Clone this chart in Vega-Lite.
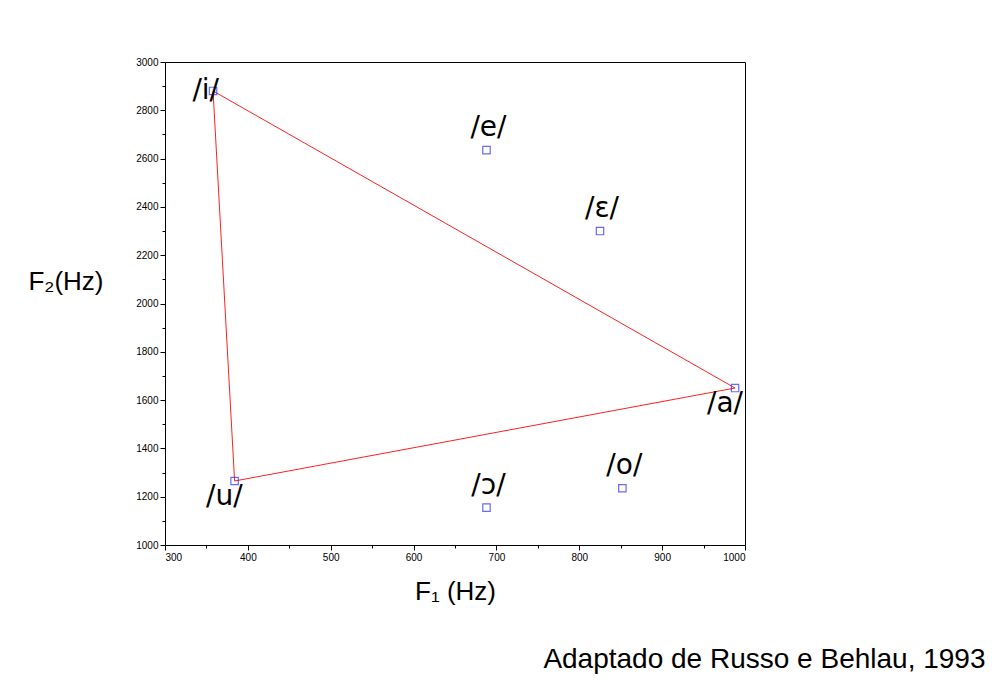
{
  "$schema": "https://vega.github.io/schema/vega-lite/v6.json",
  "width": 580,
  "height": 483,
  "autosize": "none",
  "padding": {"left": 165, "top": 62, "right": 253, "bottom": 151},
  "background": "white",
  "config": {"view": {"stroke": "black", "strokeWidth": 1}, "font": "Liberation Sans"},
  "title": {
    "text": "Adaptado de Russo e Behlau, 1993",
    "orient": "bottom",
    "anchor": "end",
    "dx": 240,
    "offset": 42,
    "fontSize": 28,
    "fontWeight": "normal",
    "color": "black"
  },
  "datasets": {
    "vowels": [
      {"label": "/i/", "f1": 358, "f2": 2880, "pos": "left"},
      {"label": "/e/", "f1": 688, "f2": 2635, "pos": "above"},
      {"label": "/ɛ/", "f1": 825, "f2": 2300, "pos": "above"},
      {"label": "/a/", "f1": 988, "f2": 1650, "pos": "belowleft"},
      {"label": "/ɔ/", "f1": 688, "f2": 1155, "pos": "above"},
      {"label": "/o/", "f1": 852, "f2": 1235, "pos": "above"},
      {"label": "/u/", "f1": 384, "f2": 1265, "pos": "belowleft"}
    ],
    "triangle": [
      {"vowel": "i", "f1": 358, "f2": 2880, "ord": 1},
      {"vowel": "a", "f1": 988, "f2": 1650, "ord": 2},
      {"vowel": "u", "f1": 384, "f2": 1265, "ord": 3},
      {"vowel": "i", "f1": 358, "f2": 2880, "ord": 4}
    ]
  },
  "encoding": {
    "x": {
      "field": "f1", "type": "quantitative",
      "scale": {"domain": [300, 1000], "nice": false, "zero": false},
      "axis": {
        "values": [300, 350, 400, 450, 500, 550, 600, 650, 700, 750, 800, 850, 900, 950, 1000],
        "labelExpr": "datum.value % 100 == 0 ? datum.label : ''",
        "tickSize": {"condition": {"test": "datum.value % 100 == 0", "value": 5}, "value": 3},
        "format": "d",
        "grid": false, "domain": false, "labelFontSize": 10, "labelColor": "black", "tickColor": "black",
        "title": "F₁ (Hz)", "titleFontSize": 26, "titleFontWeight": "normal", "titlePadding": 16, "titleColor": "black"
      }
    },
    "y": {
      "field": "f2", "type": "quantitative",
      "scale": {"domain": [1000, 3000], "nice": false, "zero": false},
      "axis": {
        "values": [1000, 1100, 1200, 1300, 1400, 1500, 1600, 1700, 1800, 1900, 2000, 2100, 2200, 2300, 2400, 2500, 2600, 2700, 2800, 2900, 3000],
        "labelExpr": "datum.value % 200 == 0 ? datum.label : ''",
        "tickSize": {"condition": {"test": "datum.value % 200 == 0", "value": 5}, "value": 3},
        "format": "d",
        "grid": false, "domain": false, "labelFontSize": 10, "labelColor": "black", "tickColor": "black",
        "title": "F₂(Hz)", "titleAngle": 0, "titleFontSize": 26, "titleFontWeight": "normal",
        "titleX": -62, "titleY": 232, "titleAlign": "right", "titleColor": "black"
      }
    }
  },
  "layer": [
    {
      "data": {"name": "triangle"},
      "mark": {"type": "line", "color": "#ff2020", "strokeWidth": 1},
      "encoding": {"order": {"field": "ord", "type": "quantitative"}}
    },
    {
      "data": {"name": "vowels"},
      "mark": {"type": "point", "shape": "square", "filled": false, "size": 55, "stroke": "#2a2aff", "strokeWidth": 1.2}
    },
    {
      "data": {"name": "vowels"},
      "transform": [{"filter": "datum.pos == 'above'"}],
      "mark": {"type": "text", "fontSize": 28, "dy": -8, "dx": 2, "baseline": "bottom", "color": "black", "font": "DejaVu Sans"},
      "encoding": {"text": {"field": "label", "type": "nominal"}}
    },
    {
      "data": {"name": "vowels"},
      "transform": [{"filter": "datum.pos == 'left'"}],
      "mark": {"type": "text", "fontSize": 28, "dx": 6, "dy": 0, "align": "right", "baseline": "middle", "color": "black", "font": "DejaVu Sans"},
      "encoding": {"text": {"field": "label", "type": "nominal"}}
    },
    {
      "data": {"name": "vowels"},
      "transform": [{"filter": "datum.pos == 'belowleft'"}],
      "mark": {"type": "text", "fontSize": 28, "dx": 8, "dy": 2, "align": "right", "baseline": "top", "color": "black", "font": "DejaVu Sans"},
      "encoding": {"text": {"field": "label", "type": "nominal"}}
    }
  ]
}
